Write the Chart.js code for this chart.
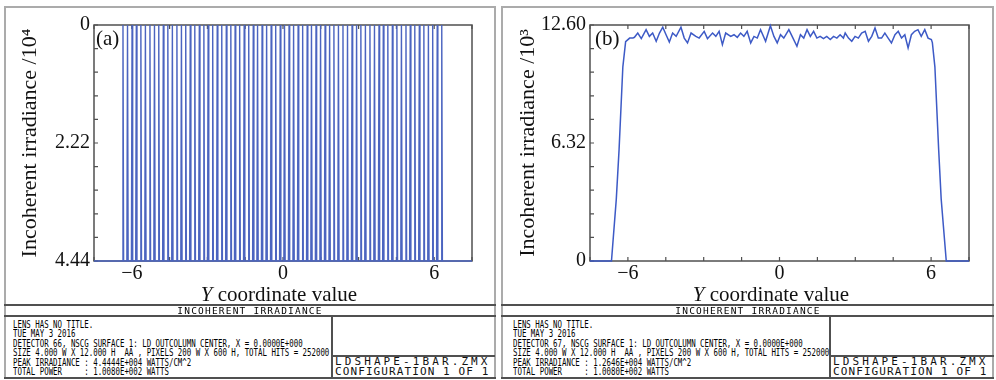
<!DOCTYPE html>
<html lang="en">
<head>
<meta charset="utf-8">
<title>Incoherent irradiance</title>
<script src="https://cdn.jsdelivr.net/npm/chart.js"></script>
<style>
  body { margin:0; background:#fff; width:996px; height:380px; position:relative; overflow:hidden; }
  .box { position:absolute; box-sizing:border-box; border:2px solid #ababab; }
  .ln { position:absolute; background:#505050; }
  canvas { position:absolute; }
  .serif { position:absolute; font-family:"Liberation Serif", serif; font-size:21px; line-height:20px; color:#111; white-space:nowrap; }
  .mono { position:absolute; font-family:"DejaVu Sans Mono", monospace; font-size:10px; line-height:9.4px; color:#000; white-space:pre; transform:scaleX(0.74); transform-origin:0 0; }
  .head { position:absolute; font-family:"DejaVu Sans Mono", monospace; font-size:9.5px; line-height:10px; letter-spacing:1.2px; color:#000; white-space:pre; text-align:center; }
  .big { position:absolute; font-family:"DejaVu Sans Mono", monospace; font-size:11px; line-height:10px; color:#111; white-space:pre; }
</style>
</head>
<body>

<!-- left panel (a) -->
<div class="box" style="left:4px;top:6px;width:492px;height:373px"></div>
<div class="ln" style="left:4px;top:304px;width:492px;height:2px"></div>
<div class="ln" style="left:4px;top:315px;width:492px;height:2px"></div>
<div class="ln" style="left:4px;top:377px;width:492px;height:2px"></div>
<div class="ln" style="left:331px;top:316px;width:2px;height:62px"></div>
<div class="ln" style="left:332px;top:355px;width:163px;height:2px"></div>
<canvas id="chartA" width="490" height="297" style="left:5px;top:7px"></canvas>
<div class="serif" style="left:96px;top:28px">(a)</div>
<div class="serif" style="left:129px;top:284px;width:300px;text-align:center"><i>Y</i> coordinate value</div>
<div class="head" style="left:5px;top:306px;width:490px">INCOHERENT IRRADIANCE</div>
<div class="mono" style="left:13px;top:320px">LENS HAS NO TITLE.
TUE MAY 3 2016
DETECTOR 66, NSCG SURFACE 1: LD OUTCOLUMN CENTER, X = 0.0000E+000
SIZE 4.000 W X 12.000 H  AA , PIXELS 200 W X 600 H, TOTAL HITS = 252000
PEAK IRRADIANCE : 4.4444E+004 WATTS/CM^2
TOTAL POWER     : 1.0080E+002 WATTS</div>
<div class="big" style="left:335px;top:357px;letter-spacing:3.1px">LDSHAPE-1BAR.ZMX</div>
<div class="big" style="left:335px;top:367px;letter-spacing:1.1px">CONFIGURATION 1 OF 1</div>

<!-- right panel (b) -->
<div class="box" style="left:501px;top:6px;width:493px;height:373px"></div>
<div class="ln" style="left:501px;top:304px;width:493px;height:2px"></div>
<div class="ln" style="left:501px;top:315px;width:493px;height:2px"></div>
<div class="ln" style="left:501px;top:377px;width:493px;height:2px"></div>
<div class="ln" style="left:829px;top:316px;width:2px;height:62px"></div>
<div class="ln" style="left:830px;top:355px;width:164px;height:2px"></div>
<canvas id="chartB" width="488" height="297" style="left:504px;top:7px"></canvas>
<div class="serif" style="left:595px;top:28px">(b)</div>
<div class="serif" style="left:621px;top:284px;width:300px;text-align:center"><i>Y</i> coordinate value</div>
<div class="head" style="left:503px;top:306px;width:490px">INCOHERENT IRRADIANCE</div>
<div class="mono" style="left:513px;top:320px">LENS HAS NO TITLE.
TUE MAY 3 2016
DETECTOR 67, NSCG SURFACE 1: LD OUTCOLUMN CENTER, X = 0.0000E+000
SIZE 4.000 W X 12.000 H  AA , PIXELS 200 W X 600 H, TOTAL HITS = 252000
PEAK IRRADIANCE : 1.2646E+004 WATTS/CM^2
TOTAL POWER     : 1.0080E+002 WATTS</div>
<div class="big" style="left:833px;top:357px;letter-spacing:3.1px">LDSHAPE-1BAR.ZMX</div>
<div class="big" style="left:833px;top:367px;letter-spacing:1.1px">CONFIGURATION 1 OF 1</div>

<script>
// x axis (mm), shared by both plots
const xTicks = [-7.5, -6, -4.5, -3, -1.5, 0, 1.5, 3, 4.5, 6, 7.5];
const xLabels = ['', '\u22126', '', '', '', '0', '', '', '', '6', ''];

// (a) spikes: positions of the peaks, top and base values (axis is reversed)
const spikeX = [
  -6.35, -6.17, -5.99, -5.82, -5.64, -5.46, -5.28, -5.10, -4.93, -4.75,
  -4.57, -4.39, -4.21, -4.03, -3.86, -3.68, -3.50, -3.32, -3.14, -2.97,
  -2.79, -2.61, -2.43, -2.25, -2.07, -1.90, -1.72, -1.54, -1.36, -1.18,
  -1.01, -0.83, -0.65, -0.47, -0.29, -0.11, 0.06, 0.24, 0.42, 0.60,
  0.78, 0.96, 1.13, 1.31, 1.49, 1.67, 1.85, 2.02, 2.20, 2.38,
  2.56, 2.74, 2.92, 3.09, 3.27, 3.45, 3.63, 3.81, 3.98, 4.16,
  4.34, 4.52, 4.70, 4.88, 5.05, 5.23, 5.41, 5.59, 5.77, 5.94,
  6.12, 6.30
];
const spikeTop = 0;
const spikeBase = 4.44;
const spikeHalfWidth = 0.025;
const yTicksA = [0, 0.444, 0.888, 1.332, 1.776, 2.22, 2.664, 3.108, 3.552, 3.996, 4.44];
const yLabelsA = ['0', '', '', '', '', '2.22', '', '', '', '', '4.44'];

// (b) irradiance profile (x10^3)
const profileX = [
  -7.5, -6.65, -6.46, -6.35, -6.2, -6.09, -5.93, -5.8, -5.74, -5.61,
  -5.47, -5.28, -5.15, -5.02, -4.88, -4.75, -4.62, -4.49, -4.36, -4.23,
  -4.09, -3.9, -3.77, -3.64, -3.5, -3.31, -3.18, -2.98, -2.85, -2.65,
  -2.52, -2.39, -2.26, -2.13, -1.93, -1.8, -1.67, -1.54, -1.41, -1.28,
  -1.14, -1.01, -0.88, -0.75, -0.55, -0.36, -0.22, -0.09, 0.04, 0.17,
  0.37, 0.5, 0.69, 0.83, 0.96, 1.09, 1.22, 1.35, 1.48, 1.61,
  1.74, 1.87, 2.01, 2.14, 2.27, 2.4, 2.53, 2.6, 2.73, 2.86,
  2.99, 3.12, 3.25, 3.39, 3.52, 3.65, 3.78, 3.91, 4.04, 4.17,
  4.3, 4.43, 4.57, 4.7, 4.83, 4.96, 5.09, 5.22, 5.35, 5.48,
  5.61, 5.75, 5.88, 6.01, 6.05, 6.15, 6.3, 6.4, 6.6, 7.5
];
const profileY = [
  0, 0, 3.3, 5.95, 10.4, 11.75, 11.94, 11.95, 11.98, 12.21,
  11.91, 12.39, 12.03, 12.21, 11.77, 12.21, 12.52, 12.12, 11.73, 12.21,
  12.03, 12.52, 11.94, 11.68, 12.21, 12.03, 11.94, 12.3, 11.91, 12.21,
  12.03, 12.3, 11.59, 12.21, 12.03, 12.12, 11.98, 12.21, 12.03, 12.3,
  11.68, 12.03, 11.94, 12.39, 11.77, 12.6, 12.03, 11.68, 12.12, 11.94,
  12.39, 12.03, 11.5, 12.12, 11.94, 12.39, 12.03, 12.3, 11.94, 12.03,
  11.91, 12.03, 11.86, 12.03, 11.94, 12.12, 11.94, 12.21, 11.94, 11.77,
  12.03, 11.94, 12.21, 12.3, 11.77, 12.03, 12.48, 11.94, 11.94, 12.21,
  11.94, 11.68, 12.12, 12.3, 11.94, 12.12, 11.41, 12.12, 12.3, 12.39,
  12.03, 12.39, 11.94, 11.86, 11.7, 10.4, 5.95, 3.3, 0, 0
];
const yTicksB = [0, 1.264, 2.528, 3.792, 5.056, 6.32, 7.584, 8.848, 10.112, 11.376, 12.64];
const yLabelsB = ['0', '', '', '', '', '6.32', '', '', '', '', '12.60'];

const serif = { family: '"Liberation Serif", serif', size: 20 };
const titleFont = { family: '"Liberation Serif", serif', size: 22 };

// frame around the plot plus small inward tick marks (drawn under the data)
const framePlugin = {
  id: 'frame',
  beforeDatasetsDraw(chart) {
    const { ctx, chartArea: a, scales } = chart;
    ctx.save();
    ctx.strokeStyle = '#505050';
    ctx.lineWidth = 1.5;
    ctx.strokeRect(a.left, a.top, a.right - a.left, a.bottom - a.top);
    ctx.lineWidth = 1.2;
    ctx.beginPath();
    scales.x.ticks.forEach(t => {
      const px = scales.x.getPixelForValue(t.value);
      ctx.moveTo(px, a.bottom); ctx.lineTo(px, a.bottom - 4);
      ctx.moveTo(px, a.top); ctx.lineTo(px, a.top + 4);
    });
    scales.y.ticks.forEach(t => {
      const py = scales.y.getPixelForValue(t.value);
      ctx.moveTo(a.left, py); ctx.lineTo(a.left + 4, py);
    });
    ctx.stroke();
    ctx.restore();
  }
};

function makeChart(id, points, color, width, yMax, yTicks, yLabels, yTitle, reverse, axisW, titlePad, padRight) {
  return new Chart(document.getElementById(id), {
    type: 'line',
    data: { datasets: [{ data: points, borderColor: color, borderWidth: width, pointRadius: 0, tension: 0, fill: false, clip: 2 }] },
    options: {
      responsive: false,
      animation: false,
      layout: { padding: { top: 18, right: padRight, bottom: 0, left: 0 } },
      plugins: { legend: { display: false }, tooltip: { enabled: false } },
      scales: {
        x: {
          type: 'linear', min: -7.5, max: 7.5,
          grid: { display: false, drawTicks: false }, border: { display: false },
          afterBuildTicks: s => { s.ticks = xTicks.map(v => ({ value: v })); },
          afterFit: s => { s.height = 43; },
          ticks: { autoSkip: false, maxRotation: 0, padding: 1, color: '#111', font: serif,
                   callback: (v, i) => xLabels[i] }
        },
        y: {
          type: 'linear', min: 0, max: yMax, reverse: reverse,
          grid: { display: false, drawTicks: false }, border: { display: false },
          afterBuildTicks: s => { s.ticks = yTicks.map(v => ({ value: v })); },
          afterFit: s => { s.width = axisW; },
          ticks: { autoSkip: false, padding: 4, color: '#111', font: serif,
                   callback: (v, i) => yLabels[i] },
          title: { display: true, text: yTitle, color: '#111', font: titleFont, padding: { top: titlePad, bottom: 0 } }
        }
      }
    },
    plugins: [framePlugin]
  });
}

// zig-zag through each spike: base -> top -> base
const spikePoints = [{ x: -7.5, y: spikeBase }];
spikeX.forEach(s => {
  spikePoints.push({ x: s - spikeHalfWidth, y: spikeBase }, { x: s, y: spikeTop }, { x: s + spikeHalfWidth, y: spikeBase });
});
spikePoints.push({ x: 7.5, y: spikeBase });

const profilePoints = profileX.map((x, i) => ({ x: x, y: profileY[i] }));

makeChart('chartA', spikePoints, '#4b64c0', 1.4, 4.44, yTicksA, yLabelsA, 'Incoherent irradiance /10\u2074', true, 89, 12, 23);
makeChart('chartB', profilePoints, '#3d5ac6', 1.5, 12.64, yTicksB, yLabelsB, 'Incoherent irradiance /10\u00b3', false, 86, 11, 23);
</script>
</body>
</html>
